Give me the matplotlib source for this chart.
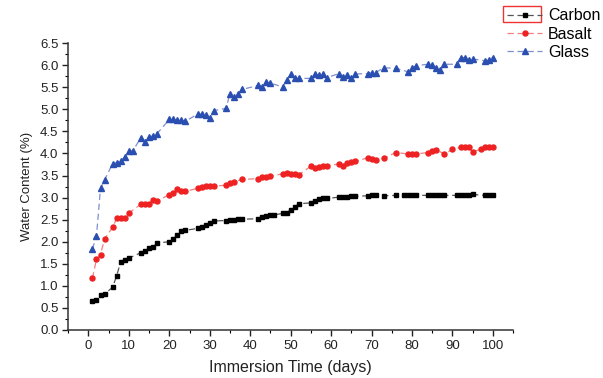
import matplotlib
matplotlib.use("Agg")
import matplotlib.pyplot as plt
from matplotlib.patches import Rectangle
from matplotlib.ticker import MultipleLocator, FormatStrFormatter

plt.rcParams['font.family'] = ['Liberation Sans', 'DejaVu Sans']

# immersion days and water content (%)
carbon_days = [1, 2, 3, 4, 6, 7, 8, 9, 10, 13, 14, 15, 16, 17, 20, 21, 22, 23, 24,
               27, 28, 29, 30, 31, 34, 35, 36, 37, 38, 42, 43, 44, 45, 46, 48, 49, 50,
               51, 52, 55, 56, 57, 58, 59, 62, 63, 64, 65, 66, 69, 70, 71, 73, 76, 78,
               79, 80, 81, 84, 85, 86, 87, 88, 91, 92, 93, 94, 95, 98, 99, 100]
carbon = [0.66, 0.68, 0.80, 0.81, 0.97, 1.23, 1.55, 1.59, 1.63, 1.75, 1.78, 1.85, 1.88,
          1.97, 2.00, 2.07, 2.15, 2.25, 2.26, 2.30, 2.34, 2.38, 2.42, 2.47, 2.48, 2.50,
          2.50, 2.51, 2.51, 2.52, 2.56, 2.59, 2.60, 2.61, 2.64, 2.66, 2.72, 2.78, 2.86,
          2.88, 2.93, 2.96, 2.98, 2.98, 3.01, 3.02, 3.02, 3.03, 3.03, 3.04, 3.05, 3.05,
          3.04, 3.05, 3.05, 3.05, 3.05, 3.05, 3.05, 3.05, 3.05, 3.05, 3.05, 3.05, 3.05,
          3.05, 3.06, 3.07, 3.05, 3.06, 3.06]

basalt_days = [1, 2, 3, 4, 6, 7, 8, 9, 10, 13, 14, 15, 16, 17, 20, 21, 22, 23, 24, 27,
               28, 29, 30, 31, 34, 35, 36, 38, 42, 43, 44, 45, 48, 49, 50, 51, 52, 55,
               56, 57, 58, 59, 62, 63, 64, 65, 66, 69, 70, 71, 73, 76, 79, 80, 81, 84,
               85, 86, 88, 90, 92, 93, 94, 95, 97, 98, 99, 100]
basalt = [1.17, 1.60, 1.71, 2.06, 2.33, 2.53, 2.53, 2.53, 2.65, 2.85, 2.86, 2.85, 2.94,
          2.93, 3.06, 3.10, 3.19, 3.14, 3.14, 3.21, 3.24, 3.26, 3.27, 3.26, 3.28, 3.32,
          3.36, 3.41, 3.43, 3.46, 3.46, 3.48, 3.54, 3.56, 3.54, 3.53, 3.52, 3.71, 3.68,
          3.70, 3.71, 3.72, 3.76, 3.72, 3.79, 3.80, 3.82, 3.90, 3.88, 3.86, 3.89, 4.02,
          3.99, 3.99, 3.99, 4.02, 4.06, 4.08, 3.99, 4.09, 4.14, 4.15, 4.14, 4.03, 4.10,
          4.15, 4.15, 4.15]

glass_days = [1, 2, 3, 4, 6, 7, 8, 9, 10, 11, 13, 14, 15, 16, 17, 20, 21, 22, 23, 24,
              27, 28, 29, 30, 31, 34, 35, 36, 37, 38, 42, 43, 44, 45, 48, 49, 50, 51,
              52, 55, 56, 57, 58, 59, 62, 63, 64, 65, 66, 69, 70, 71, 73, 76, 79, 80,
              81, 84, 85, 86, 87, 88, 91, 92, 93, 94, 95, 98, 99, 100]
glass = [1.83, 2.13, 3.21, 3.40, 3.77, 3.79, 3.83, 3.92, 4.06, 4.06, 4.36, 4.27, 4.37,
         4.40, 4.45, 4.77, 4.77, 4.75, 4.75, 4.73, 4.89, 4.89, 4.87, 4.80, 4.97, 5.02,
         5.35, 5.27, 5.34, 5.45, 5.54, 5.51, 5.62, 5.59, 5.51, 5.66, 5.79, 5.71, 5.70,
         5.70, 5.79, 5.77, 5.80, 5.72, 5.81, 5.73, 5.77, 5.70, 5.80, 5.81, 5.83, 5.83,
         5.94, 5.93, 5.85, 5.93, 5.99, 6.02, 6.00, 5.93, 5.88, 6.02, 6.02, 6.17, 6.17,
         6.12, 6.14, 6.10, 6.12, 6.17]

fig = plt.figure(figsize=(6.03, 3.78), dpi=100)
ax = fig.add_axes([0.113, 0.127, 0.738, 0.759])

ax.plot(carbon_days, carbon, color='#555555', marker='s', markersize=3.5,
        markerfacecolor='black', markeredgecolor='black',
        linestyle=(0, (5, 3)), linewidth=0.9, label='Carbon')
ax.plot(basalt_days, basalt, color='#f08080', marker='o', markersize=3.6,
        markerfacecolor='#ee2222', markeredgecolor='#ee2222',
        linestyle=(0, (5, 3)), linewidth=0.9, label='Basalt')
ax.plot(glass_days, glass, color='#7f8fd0', marker='^', markersize=4.3,
        markerfacecolor='#2a4fb0', markeredgecolor='#2a4fb0',
        linestyle=(0, (5, 3)), linewidth=0.9, label='Glass')

ax.set_xlim(-5, 105)
ax.set_ylim(0, 6.5)
ax.set_xticks(range(0, 101, 10))
ax.xaxis.set_minor_locator(MultipleLocator(5))
ax.yaxis.set_major_locator(MultipleLocator(0.5))
ax.yaxis.set_minor_locator(MultipleLocator(0.25))
ax.yaxis.set_major_formatter(FormatStrFormatter('%.1f'))
ax.tick_params(which='major', direction='out', length=4, width=1, labelsize=9.5,
               colors='#222222', pad=3)
ax.tick_params(which='minor', direction='out', length=2, width=0.8)

for side in ('top', 'right'):
    ax.spines[side].set_visible(False)
for side in ('left', 'bottom'):
    ax.spines[side].set_linewidth(1.1)
    ax.spines[side].set_color('#333333')

ax.set_xlabel('Immersion Time (days)', fontsize=11.5, color='#222222', labelpad=6)
ax.set_ylabel('Water Content (%)', fontsize=9.5, color='#222222', labelpad=5)

fig.legend(loc='upper left', bbox_to_anchor=(0.825, 1.003), frameon=False,
           fontsize=11.5, handlelength=2.2, handletextpad=0.35, labelspacing=0.2,
           borderaxespad=0.2)
fig.patches.append(Rectangle((503 / 603, 1 - 22 / 378), 38 / 603, 16 / 378,
                             transform=fig.transFigure, fill=False,
                             edgecolor='#ee3333', linewidth=1))

fig.savefig('out.png', dpi=100)
